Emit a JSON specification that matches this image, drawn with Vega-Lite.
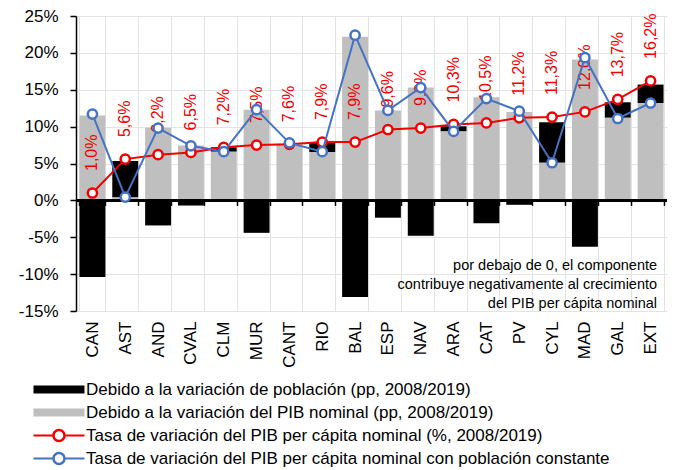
{
  "$schema": "https://vega.github.io/schema/vega-lite/v6.json",
  "width": 591,
  "height": 295,
  "autosize": {"type": "none"},
  "padding": {"left": 76, "top": 16, "right": 11, "bottom": 159},
  "background": "white",
  "config": {
    "font": "Liberation Sans",
    "view": {"stroke": null},
    "axis": {"labelColor": "black", "titleColor": "black"},
    "axisY": {
      "title": null, "tickCount": 8, "labelExpr": "datum.value + '%'", "labelFontSize": 17, "labelPadding": 12,
      "labelOverlap": false, "labelBound": false, "labelFlush": false,
      "grid": true, "gridColor": "#e3e3e3", "domainColor": "black", "domainWidth": 1.5,
      "tickColor": "black", "tickSize": 6, "tickWidth": 1.5
    }
  },
  "data": {
    "values": [
      {"r": "CAN", "s": "pob", "v": -10.4}, {"r": "CAN", "s": "pib", "v": 11.5}, {"r": "CAN", "s": "pc", "v": 1.0}, {"r": "CAN", "s": "pcc", "v": 11.7},
      {"r": "AST", "s": "pob", "v": 4.95}, {"r": "AST", "s": "pib", "v": 0.4}, {"r": "AST", "s": "pc", "v": 5.6}, {"r": "AST", "s": "pcc", "v": 0.45},
      {"r": "AND", "s": "pob", "v": -3.4}, {"r": "AND", "s": "pib", "v": 9.85}, {"r": "AND", "s": "pc", "v": 6.2}, {"r": "AND", "s": "pcc", "v": 9.8},
      {"r": "CVAL", "s": "pob", "v": -0.7}, {"r": "CVAL", "s": "pib", "v": 7.45}, {"r": "CVAL", "s": "pc", "v": 6.5}, {"r": "CVAL", "s": "pcc", "v": 7.4},
      {"r": "CLM", "s": "pob", "v": 0.6}, {"r": "CLM", "s": "pib", "v": 6.6}, {"r": "CLM", "s": "pc", "v": 7.2}, {"r": "CLM", "s": "pcc", "v": 6.6},
      {"r": "MUR", "s": "pob", "v": -4.4}, {"r": "MUR", "s": "pib", "v": 12.3}, {"r": "MUR", "s": "pc", "v": 7.5}, {"r": "MUR", "s": "pcc", "v": 12.3},
      {"r": "CANT", "s": "pob", "v": -0.1}, {"r": "CANT", "s": "pib", "v": 7.7}, {"r": "CANT", "s": "pc", "v": 7.6}, {"r": "CANT", "s": "pcc", "v": 7.8},
      {"r": "RIO", "s": "pob", "v": 1.3}, {"r": "RIO", "s": "pib", "v": 6.55}, {"r": "RIO", "s": "pc", "v": 7.9}, {"r": "RIO", "s": "pcc", "v": 6.6},
      {"r": "BAL", "s": "pob", "v": -13.1}, {"r": "BAL", "s": "pib", "v": 22.2}, {"r": "BAL", "s": "pc", "v": 7.9}, {"r": "BAL", "s": "pcc", "v": 22.4},
      {"r": "ESP", "s": "pob", "v": -2.35}, {"r": "ESP", "s": "pib", "v": 12.2}, {"r": "ESP", "s": "pc", "v": 9.6}, {"r": "ESP", "s": "pcc", "v": 12.2},
      {"r": "NAV", "s": "pob", "v": -4.8}, {"r": "NAV", "s": "pib", "v": 15.3}, {"r": "NAV", "s": "pc", "v": 9.8}, {"r": "NAV", "s": "pcc", "v": 15.3},
      {"r": "ARA", "s": "pob", "v": 0.7}, {"r": "ARA", "s": "pib", "v": 9.35}, {"r": "ARA", "s": "pc", "v": 10.3}, {"r": "ARA", "s": "pcc", "v": 9.35},
      {"r": "CAT", "s": "pob", "v": -3.1}, {"r": "CAT", "s": "pib", "v": 14.0}, {"r": "CAT", "s": "pc", "v": 10.5}, {"r": "CAT", "s": "pcc", "v": 13.8},
      {"r": "PV", "s": "pob", "v": -0.6}, {"r": "PV", "s": "pib", "v": 12.0}, {"r": "PV", "s": "pc", "v": 11.2}, {"r": "PV", "s": "pcc", "v": 12.1},
      {"r": "CYL", "s": "pob", "v": 5.5}, {"r": "CYL", "s": "pib", "v": 5.1}, {"r": "CYL", "s": "pc", "v": 11.3}, {"r": "CYL", "s": "pcc", "v": 5.1},
      {"r": "MAD", "s": "pob", "v": -6.3}, {"r": "MAD", "s": "pib", "v": 19.1}, {"r": "MAD", "s": "pc", "v": 12.0}, {"r": "MAD", "s": "pcc", "v": 19.35},
      {"r": "GAL", "s": "pob", "v": 2.1}, {"r": "GAL", "s": "pib", "v": 11.2}, {"r": "GAL", "s": "pc", "v": 13.7}, {"r": "GAL", "s": "pcc", "v": 11.1},
      {"r": "EXT", "s": "pob", "v": 2.5}, {"r": "EXT", "s": "pib", "v": 13.2}, {"r": "EXT", "s": "pc", "v": 16.2}, {"r": "EXT", "s": "pcc", "v": 13.2}
    ]
  },
  "resolve": {"axis": {"x": "independent"}},
  "layer": [
    {
      "transform": [{"filter": "datum.s == 'pob' || datum.s == 'pib'"}],
      "mark": {"type": "bar"},
      "encoding": {
        "x": {
          "field": "r", "type": "nominal", "sort": null,
          "scale": {"paddingInner": 0.21, "paddingOuter": 0.105},
          "axis": {
            "title": null, "orient": "bottom", "labelAngle": 270, "labelFontSize": 17, "labelPadding": 10,
            "domain": false, "ticks": false, "grid": true, "gridColor": "#e3e3e3",
            "tickBand": "extent", "zindex": 0
          }
        },
        "y": {
          "field": "v", "type": "quantitative", "stack": "zero",
          "scale": {"domain": [-15, 25], "nice": false}
        },
        "order": {"field": "s", "sort": "ascending"},
        "color": {
          "field": "s", "type": "nominal",
          "scale": {"domain": ["pob", "pib", "pc", "pcc"], "range": ["#000000", "#bfbfbf", "#f00000", "#4472c4"]},
          "legend": {
            "orient": "none", "legendX": -46, "legendY": 365, "direction": "vertical",
            "title": null, "labelFontSize": 17, "labelColor": "black", "labelLimit": 700,
            "symbolSize": 100, "labelOffset": 39, "rowPadding": 5, "padding": 0,
            "labelExpr": "datum.value == 'pob' ? 'Debido a la variación de población (pp, 2008/2019)' : datum.value == 'pib' ? 'Debido a la variación del PIB nominal (pp, 2008/2019)' : datum.value == 'pc' ? 'Tasa de variación del PIB per cápita nominal (%, 2008/2019)' : 'Tasa de variación del PIB per cápita nominal con población constante'",
            "encode": {
              "symbols": {
                "update": {
                  "shape": {"signal": "datum.value == 'pob' || datum.value == 'pib' ? 'M-1,-0.8H9.2V0.8H-1Z' : 'M-1,-0.2H2.75V0.2H-1Z M5.45,-0.2H9.2V0.2H5.45Z M2.75,0A1.35,1.35 0 1,0 5.45,0A1.35,1.35 0 1,0 2.75,0Z M3.25,0A0.85,0.85 0 1,1 4.95,0A0.85,0.85 0 1,1 3.25,0Z'"},
                  "fill": {"signal": "datum.value == 'pob' ? '#000000' : datum.value == 'pib' ? '#bfbfbf' : datum.value == 'pc' ? '#f00000' : '#4472c4'"},
                  "stroke": {"value": "transparent"},
                  "strokeWidth": {"value": 0},
                  "opacity": {"value": 1},
                  "fillOpacity": {"value": 1}
                }
              }
            }
          }
        }
      }
    },
    {
      "mark": {"type": "rule", "color": "#000000", "strokeWidth": 1.5},
      "encoding": {
        "y": {"datum": 0, "type": "quantitative"}
      }
    },
    {
      "transform": [
        {"filter": "datum.s == 'pc'"},
        {"calculate": "replace(format(datum.v, '.1f'), '.', ',') + '%'", "as": "lbl"}
      ],
      "mark": {"type": "text", "angle": 270, "align": "left", "baseline": "middle", "dx": 22, "fontSize": 16, "color": "#f00000"},
      "encoding": {
        "x": {
          "field": "r", "type": "nominal", "sort": null,
          "axis": {
            "title": null, "labels": false, "grid": false, "orient": "top", "offset": -184.4,
            "domain": false, "ticks": true, "tickColor": "black", "tickSize": -5, "tickWidth": 1.5,
            "tickBand": "extent", "zindex": 2
          }
        },
        "y": {"field": "v", "type": "quantitative"},
        "text": {"field": "lbl"}
      }
    },
    {
      "transform": [{"filter": "datum.s == 'pc'"}],
      "mark": {"type": "line", "strokeWidth": 2},
      "encoding": {
        "x": {"field": "r", "type": "nominal", "sort": null, "axis": null},
        "y": {"field": "v", "type": "quantitative"},
        "color": {"field": "s", "type": "nominal"}
      }
    },
    {
      "transform": [{"filter": "datum.s == 'pc'"}],
      "mark": {"type": "point", "shape": "circle", "filled": false, "fill": "white", "fillOpacity": 1, "opacity": 1, "strokeWidth": 2.5, "size": 85},
      "encoding": {
        "x": {"field": "r", "type": "nominal", "sort": null, "axis": null},
        "y": {"field": "v", "type": "quantitative"},
        "color": {"field": "s", "type": "nominal"}
      }
    },
    {
      "transform": [{"filter": "datum.s == 'pcc'"}],
      "mark": {"type": "line", "strokeWidth": 2},
      "encoding": {
        "x": {"field": "r", "type": "nominal", "sort": null, "axis": null},
        "y": {"field": "v", "type": "quantitative"},
        "color": {"field": "s", "type": "nominal"}
      }
    },
    {
      "transform": [{"filter": "datum.s == 'pcc'"}],
      "mark": {"type": "point", "shape": "circle", "filled": false, "fill": "white", "fillOpacity": 1, "opacity": 1, "strokeWidth": 2.5, "size": 85},
      "encoding": {
        "x": {"field": "r", "type": "nominal", "sort": null, "axis": null},
        "y": {"field": "v", "type": "quantitative"},
        "color": {"field": "s", "type": "nominal"}
      }
    },
    {
      "data": {"values": [{"t": ["por debajo de 0, el componente", "contribuye negativamente al crecimiento", "del PIB per cápita nominal"]}]},
      "mark": {"type": "text", "align": "right", "baseline": "top", "dx": 6.5, "fontSize": 14.5, "lineHeight": 18.8, "color": "black"},
      "encoding": {
        "x": {"datum": "EXT", "type": "nominal", "axis": null},
        "y": {"datum": -8, "type": "quantitative"},
        "text": {"field": "t"}
      }
    }
  ]
}
